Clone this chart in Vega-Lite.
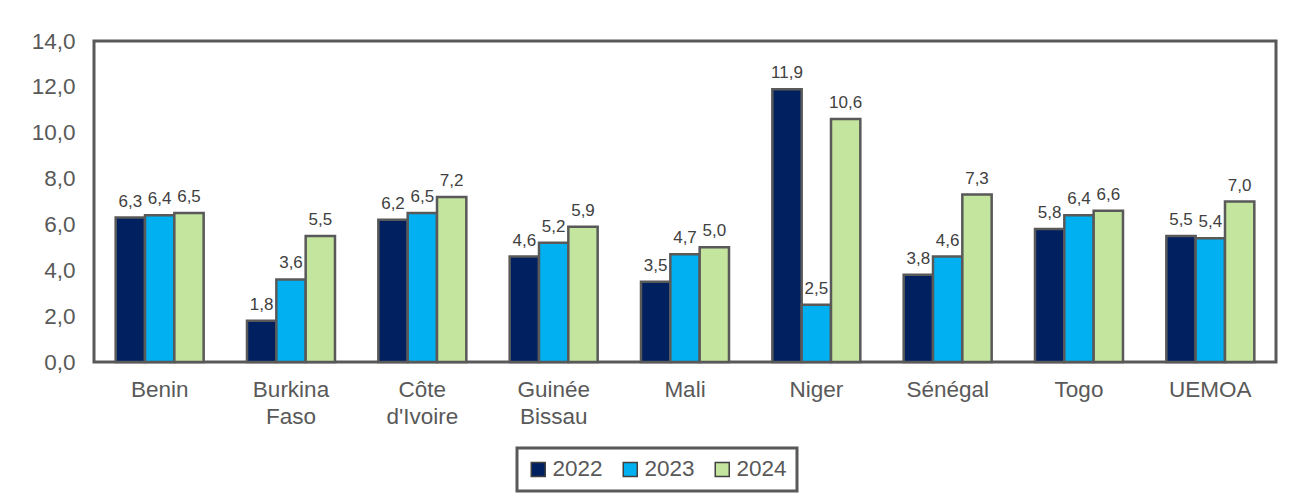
{
  "$schema": "https://vega.github.io/schema/vega-lite/v6.json",
  "width": 1182,
  "height": 321,
  "autosize": {"type": "none"},
  "padding": {"left": 94, "top": 41, "right": 15, "bottom": 138},
  "background": "white",
  "config": {
    "font": "Liberation Sans",
    "locale": {"number": {"decimal": ",", "thousands": " ", "grouping": [3], "currency": ["", " €"]}},
    "view": {"stroke": "#595959", "strokeWidth": 3}
  },
  "data": {
    "values": [
      {"pays": "Benin", "annee": "2022", "v": 6.3},
      {"pays": "Benin", "annee": "2023", "v": 6.4},
      {"pays": "Benin", "annee": "2024", "v": 6.5},
      {"pays": "Burkina Faso", "annee": "2022", "v": 1.8},
      {"pays": "Burkina Faso", "annee": "2023", "v": 3.6},
      {"pays": "Burkina Faso", "annee": "2024", "v": 5.5},
      {"pays": "Côte d'Ivoire", "annee": "2022", "v": 6.2},
      {"pays": "Côte d'Ivoire", "annee": "2023", "v": 6.5},
      {"pays": "Côte d'Ivoire", "annee": "2024", "v": 7.2},
      {"pays": "Guinée Bissau", "annee": "2022", "v": 4.6},
      {"pays": "Guinée Bissau", "annee": "2023", "v": 5.2},
      {"pays": "Guinée Bissau", "annee": "2024", "v": 5.9},
      {"pays": "Mali", "annee": "2022", "v": 3.5},
      {"pays": "Mali", "annee": "2023", "v": 4.7},
      {"pays": "Mali", "annee": "2024", "v": 5.0},
      {"pays": "Niger", "annee": "2022", "v": 11.9},
      {"pays": "Niger", "annee": "2023", "v": 2.5},
      {"pays": "Niger", "annee": "2024", "v": 10.6},
      {"pays": "Sénégal", "annee": "2022", "v": 3.8},
      {"pays": "Sénégal", "annee": "2023", "v": 4.6},
      {"pays": "Sénégal", "annee": "2024", "v": 7.3},
      {"pays": "Togo", "annee": "2022", "v": 5.8},
      {"pays": "Togo", "annee": "2023", "v": 6.4},
      {"pays": "Togo", "annee": "2024", "v": 6.6},
      {"pays": "UEMOA", "annee": "2022", "v": 5.5},
      {"pays": "UEMOA", "annee": "2023", "v": 5.4},
      {"pays": "UEMOA", "annee": "2024", "v": 7.0}
    ]
  },
  "encoding": {
    "x": {
      "field": "pays",
      "type": "nominal",
      "sort": null,
      "scale": {"paddingInner": 0.33, "paddingOuter": 0.165},
      "axis": {
        "title": null,
        "labelAngle": 0,
        "labelFontSize": 22.5,
        "labelColor": "#595959",
        "labelPadding": 16,
        "labelLineHeight": 27,
        "labelExpr": "split(datum.label, ' ')",
        "ticks": false,
        "domain": false
      }
    },
    "xOffset": {"field": "annee", "type": "nominal", "sort": null},
    "y": {
      "field": "v",
      "type": "quantitative",
      "scale": {"domain": [0, 14], "nice": false},
      "axis": {
        "title": null,
        "values": [0, 2, 4, 6, 8, 10, 12, 14],
        "format": ".1f",
        "labelFontSize": 22.5,
        "labelColor": "#595959",
        "labelPadding": 19,
        "ticks": false,
        "domain": false,
        "grid": false
      }
    }
  },
  "layer": [
    {
      "mark": {"type": "bar", "stroke": "#595959", "strokeWidth": 2.5},
      "encoding": {
        "color": {
          "field": "annee",
          "type": "nominal",
          "scale": {"domain": ["2022", "2023", "2024"], "range": ["#002060", "#00B0F0", "#C3E59E"]},
          "legend": {
            "title": null,
            "orient": "none",
            "legendX": 423,
            "legendY": 407,
            "direction": "horizontal",
            "symbolType": "square",
            "symbolSize": 196,
            "symbolStrokeColor": "#404040",
            "symbolStrokeWidth": 1.5,
            "symbolOpacity": 1,
            "labelFontSize": 22.5,
            "labelColor": "#595959",
            "labelOffset": 3,
            "columnPadding": 16,
            "strokeColor": "#595959",
            "padding": 10,
            "offset": 0,
            "encode": {"legend": {"update": {"strokeWidth": {"value": 3}}}}
          }
        }
      }
    },
    {
      "mark": {"type": "text", "baseline": "bottom", "dy": -7, "fontSize": 17, "color": "#404040"},
      "encoding": {
        "text": {"field": "v", "type": "quantitative", "format": ".1f"}
      }
    }
  ]
}
